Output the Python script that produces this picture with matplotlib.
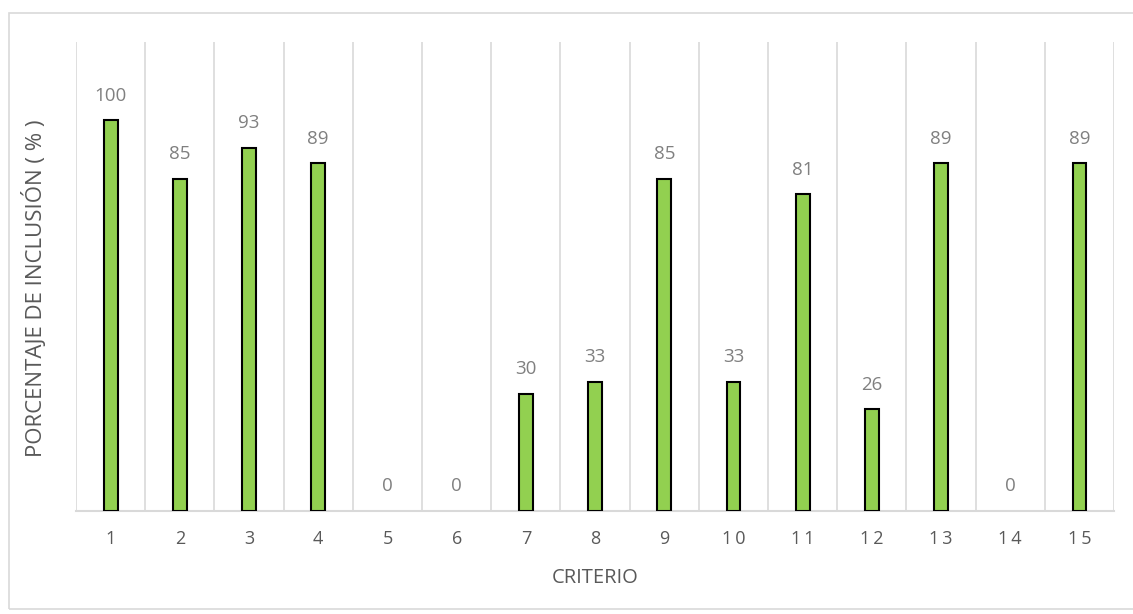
import matplotlib.pyplot as plt
import numpy as np
from matplotlib.patches import Rectangle

# -----------------------------
# Data
# -----------------------------
criterios = ["1", "2", "3", "4", "5", "6", "7", "8", "9", "10", "11", "12", "13", "14", "15"]
porcentajes = [100, 85, 93, 89, 0, 0, 30, 33, 85, 33, 81, 26, 89, 0, 89]

plt.rcParams["font.family"] = ["Open Sans", "DejaVu Sans"]

# -----------------------------
# Figure
# -----------------------------
fig = plt.figure(figsize=(11.33, 6.14), dpi=100)
ax = fig.add_axes([0.0671, 0.1678, 0.9162, 0.7638])

# light frame around the whole chart
fig.patches.append(Rectangle((9 / 1133, 0.008), 1.0, 1 - 13 / 614 - 0.008,
                             transform=fig.transFigure, fill=False,
                             edgecolor="#d9d9d9", linewidth=1.2))

x = np.arange(len(criterios))

# zero-height bars get no outline
edges = ["black" if v > 0 else "none" for v in porcentajes]
ax.bar(
    x,
    porcentajes,
    width=0.2,
    color="#92d050",
    edgecolor=edges,
    linewidth=1.5,
    zorder=3
)

# value labels
for xi, val in zip(x, porcentajes):
    ax.text(xi, val + 4, f"{val}", ha="center", va="bottom",
            fontsize=13.5, color="#808080")

# vertical gridlines between categories
for b in np.arange(len(criterios) + 1) - 0.5:
    ax.axvline(b, color="#d9d9d9", linewidth=1.2, zorder=0)

ax.set_xlim(-0.5, len(criterios) - 0.5)
ax.set_ylim(0, 120)

ax.set_xticks(x)
ax.set_xticklabels(["\u2009".join(c) for c in criterios], fontsize=13, color="#595959")
ax.tick_params(axis="x", length=0, pad=14)
ax.set_yticks([])

for side in ["top", "right", "left"]:
    ax.spines[side].set_visible(False)
ax.spines["bottom"].set_color("#d9d9d9")
ax.spines["bottom"].set_linewidth(1.5)

ax.set_xlabel("CRITERIO", fontsize=14.5, color="#595959", labelpad=14)
ax.set_ylabel("PORCENTAJE DE INCLUSIÓN ( % )", fontsize=16, color="#595959")
ax.yaxis.set_label_coords(-0.028, 0.475)

plt.savefig("out.png", dpi=100)
plt.close()
